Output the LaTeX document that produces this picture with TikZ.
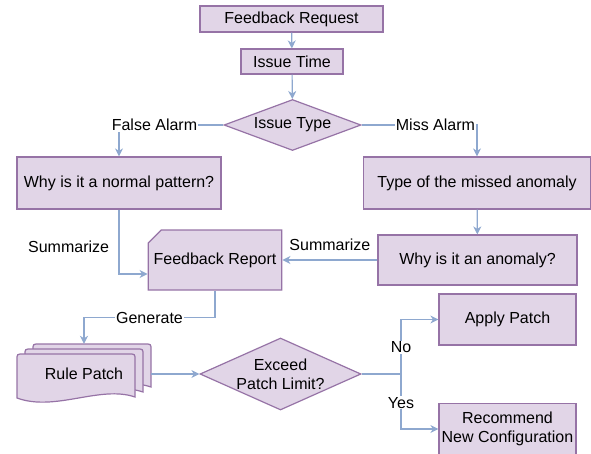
\documentclass[tikz,border=0pt]{standalone}
\usepackage{fontspec}
\setmainfont{Liberation Sans}
\usetikzlibrary{arrows.meta, shapes.geometric, shapes.misc}
\definecolor{boxfill}{HTML}{E1D5E7}
\definecolor{boxline}{HTML}{9673A6}
\definecolor{flowline}{RGB}{142,168,207}

\begin{document}
\begin{tikzpicture}[x=1pt, y=-1pt, font=\fontsize{16}{19}\selectfont,
    box/.style={draw=boxline, fill=boxfill, line width=1.2pt, rectangle, inner sep=2pt, align=center},
    decision/.style={draw=boxline, fill=boxfill, line width=1.2pt, diamond, inner sep=-3pt, align=center},
    flow/.style={draw=flowline, line width=1.2pt, -{Stealth[length=8pt, width=8pt, inset=2.5pt]}},
    lbl/.style={fill=white, inner sep=1pt}]
\clip (0,0) rectangle (591,453);

% Incoming feedback
\node[box, minimum width=183pt, minimum height=26pt] (request) at (291.5,19) {Feedback Request};
\node[box, minimum width=102pt, minimum height=25pt] (time) at (292,61.5) {Issue Time};
\node[decision, aspect=2.7, minimum width=137pt, minimum height=51pt] (type) at (292.5,125) {Issue Type};

\draw[flow] (request) -- (time);
\draw[flow] (time) -- (type);

% Two kinds of issue
\node[box, minimum width=204pt, minimum height=52pt] (normal) at (119,183) {Why is it a normal pattern?};
\node[box, minimum width=227pt, minimum height=52pt] (missed) at (477,183) {Type of the missed anomaly};
\node[box, minimum width=199pt, minimum height=50pt] (anomaly) at (477.5,260) {Why is it an anomaly?};

\draw[flow] (type.west) -| node[lbl, pos=0.33] {False Alarm} (normal.north);
\draw[flow] (type.east) -| node[lbl, pos=0.32] {Miss Alarm} (missed.north);
\draw[flow] (missed) -- (anomaly);

% Report
\node[draw=boxline, fill=boxfill, line width=1.2pt, chamfered rectangle, chamfered rectangle corners=north west,
      chamfered rectangle xsep=17pt, minimum width=122pt, minimum height=60pt, inner xsep=-4pt, inner ysep=2pt] (report) at (215,260) {Feedback Report};

\draw[flow] (anomaly.west) -- node[above=5pt] {Summarize} (report.east);
\draw[flow] (normal.south) |- node[left=6pt, pos=0.29] {Summarize} ([yshift=-14pt]report.west);

% Rule patch (stacked pages)
\foreach \dx/\dy in {16/-10, 8/-5, 0/0} {
  \draw[draw=boxline, fill=boxfill, line width=1.2pt, shift={(\dx,\dy)}]
    (17,398) -- (17,360) .. controls (17,354) .. (23,354) -- (129,354) .. controls (135,354) .. (135,360)
    -- (135,397) .. controls (100,385) and (55,412) .. (17,398) -- cycle;
}
\node[minimum width=134pt, minimum height=60pt, inner sep=0pt] (patch) at (84,374) {Rule Patch};

\draw[flow] (report.south) -- ++(0,27) -| node[lbl, pos=0.25] {Generate} (patch.north);

% Patch limit check
\node[decision, aspect=2.24, minimum width=161pt, minimum height=72pt] (exceed) at (280.5,374) {Exceed\\Patch Limit?};
\node[box, minimum width=137pt, minimum height=51pt] (apply) at (507.5,319.5) {Apply Patch};
\node[box, minimum width=137pt, minimum height=51pt] (recommend) at (507.5,429) {Recommend\\New Configuration};
\coordinate (split) at (401,374);

\draw[flow] (patch.east) -- (exceed.west);
\draw[flow] (exceed.east) -- (split) |- node[lbl, pos=0.245] {No} (apply.west);
\draw[flow] (exceed.east) -- (split) |- node[lbl, pos=0.26] {Yes} (recommend.west);
\end{tikzpicture}
\end{document}
